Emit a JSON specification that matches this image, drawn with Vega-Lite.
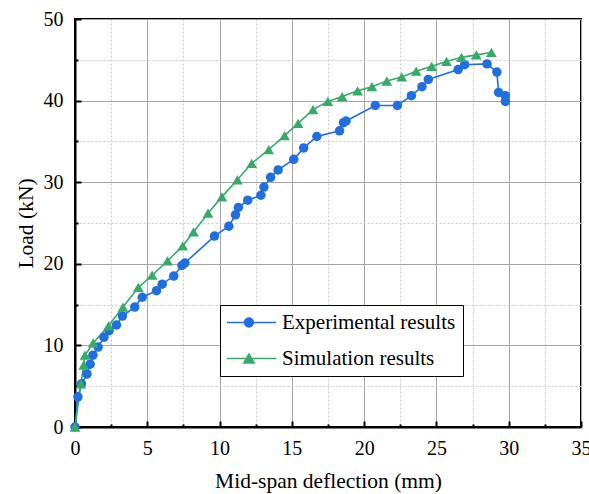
{
  "$schema": "https://vega.github.io/schema/vega-lite/v6.json",
  "width": 506,
  "height": 408,
  "autosize": "none",
  "padding": {"left": 75, "top": 19, "right": 8, "bottom": 67},
  "background": "white",
  "config": {
    "view": {"stroke": "black", "strokeWidth": 2},
    "font": "Liberation Serif",
    "legend": {
      "title": null,
      "orient": "none",
      "legendX": 145,
      "legendY": 286,
      "symbolSize": 2916,
      "symbolOpacity": 1,
      "symbolStrokeWidth": 0,
      "symbolOffset": -5,
      "clipHeight": 21,
      "labelFont": "Liberation Serif",
      "labelFontSize": 21,
      "labelColor": "black",
      "labelOffset": 6,
      "labelLimit": 400,
      "rowPadding": 14,
      "padding": 7,
      "strokeColor": "black",
      "fillColor": "white"
    }
  },
  "data": {
    "values": [
      {"series": "Experimental results", "i": 0, "x": 0, "y": 0},
      {"series": "Experimental results", "i": 1, "x": 0.2, "y": 3.7},
      {"series": "Experimental results", "i": 2, "x": 0.45, "y": 5.3},
      {"series": "Experimental results", "i": 3, "x": 0.83, "y": 6.5},
      {"series": "Experimental results", "i": 4, "x": 1.05, "y": 7.7},
      {"series": "Experimental results", "i": 5, "x": 1.24, "y": 8.8},
      {"series": "Experimental results", "i": 6, "x": 1.6, "y": 9.8},
      {"series": "Experimental results", "i": 7, "x": 2.0, "y": 11.0},
      {"series": "Experimental results", "i": 8, "x": 2.36, "y": 11.8},
      {"series": "Experimental results", "i": 9, "x": 2.87, "y": 12.5},
      {"series": "Experimental results", "i": 10, "x": 3.28, "y": 13.6},
      {"series": "Experimental results", "i": 11, "x": 4.13, "y": 14.7},
      {"series": "Experimental results", "i": 12, "x": 4.65, "y": 15.9},
      {"series": "Experimental results", "i": 13, "x": 5.64, "y": 16.7},
      {"series": "Experimental results", "i": 14, "x": 6.03, "y": 17.5},
      {"series": "Experimental results", "i": 15, "x": 6.83, "y": 18.5},
      {"series": "Experimental results", "i": 16, "x": 7.4, "y": 19.8},
      {"series": "Experimental results", "i": 17, "x": 7.6, "y": 20.1},
      {"series": "Experimental results", "i": 18, "x": 9.65, "y": 23.4},
      {"series": "Experimental results", "i": 19, "x": 10.64, "y": 24.6},
      {"series": "Experimental results", "i": 20, "x": 11.1, "y": 26.0},
      {"series": "Experimental results", "i": 21, "x": 11.3, "y": 26.9},
      {"series": "Experimental results", "i": 22, "x": 11.95, "y": 27.8},
      {"series": "Experimental results", "i": 23, "x": 12.86, "y": 28.4},
      {"series": "Experimental results", "i": 24, "x": 13.07, "y": 29.4},
      {"series": "Experimental results", "i": 25, "x": 13.53, "y": 30.6},
      {"series": "Experimental results", "i": 26, "x": 14.05, "y": 31.5},
      {"series": "Experimental results", "i": 27, "x": 15.13, "y": 32.8},
      {"series": "Experimental results", "i": 28, "x": 15.82, "y": 34.2},
      {"series": "Experimental results", "i": 29, "x": 16.73, "y": 35.6},
      {"series": "Experimental results", "i": 30, "x": 18.3, "y": 36.3},
      {"series": "Experimental results", "i": 31, "x": 18.57, "y": 37.3},
      {"series": "Experimental results", "i": 32, "x": 18.75, "y": 37.5},
      {"series": "Experimental results", "i": 33, "x": 20.77, "y": 39.4},
      {"series": "Experimental results", "i": 34, "x": 22.3, "y": 39.4},
      {"series": "Experimental results", "i": 35, "x": 23.27, "y": 40.6},
      {"series": "Experimental results", "i": 36, "x": 24.0, "y": 41.7},
      {"series": "Experimental results", "i": 37, "x": 24.44, "y": 42.6},
      {"series": "Experimental results", "i": 38, "x": 26.5, "y": 43.8},
      {"series": "Experimental results", "i": 39, "x": 26.95, "y": 44.4},
      {"series": "Experimental results", "i": 40, "x": 28.5, "y": 44.5},
      {"series": "Experimental results", "i": 41, "x": 29.18, "y": 43.5},
      {"series": "Experimental results", "i": 42, "x": 29.3, "y": 41.0},
      {"series": "Experimental results", "i": 43, "x": 29.77, "y": 40.6},
      {"series": "Experimental results", "i": 44, "x": 29.77, "y": 39.9},
      {"series": "Simulation results", "i": 0, "x": 0, "y": 0},
      {"series": "Simulation results", "i": 1, "x": 0.41, "y": 5.3},
      {"series": "Simulation results", "i": 2, "x": 0.6, "y": 7.6},
      {"series": "Simulation results", "i": 3, "x": 0.69, "y": 8.8},
      {"series": "Simulation results", "i": 4, "x": 1.26, "y": 10.3},
      {"series": "Simulation results", "i": 5, "x": 2.32, "y": 12.4},
      {"series": "Simulation results", "i": 6, "x": 3.32, "y": 14.7},
      {"series": "Simulation results", "i": 7, "x": 4.38, "y": 17.1},
      {"series": "Simulation results", "i": 8, "x": 5.34, "y": 18.6},
      {"series": "Simulation results", "i": 9, "x": 6.4, "y": 20.35},
      {"series": "Simulation results", "i": 10, "x": 7.45, "y": 22.2},
      {"series": "Simulation results", "i": 11, "x": 8.2, "y": 23.9},
      {"series": "Simulation results", "i": 12, "x": 9.2, "y": 26.2},
      {"series": "Simulation results", "i": 13, "x": 10.16, "y": 28.2},
      {"series": "Simulation results", "i": 14, "x": 11.23, "y": 30.3},
      {"series": "Simulation results", "i": 15, "x": 12.22, "y": 32.3},
      {"series": "Simulation results", "i": 16, "x": 13.4, "y": 34.0},
      {"series": "Simulation results", "i": 17, "x": 14.5, "y": 35.7},
      {"series": "Simulation results", "i": 18, "x": 15.43, "y": 37.2},
      {"series": "Simulation results", "i": 19, "x": 16.46, "y": 38.9},
      {"series": "Simulation results", "i": 20, "x": 17.49, "y": 39.9},
      {"series": "Simulation results", "i": 21, "x": 18.48, "y": 40.5},
      {"series": "Simulation results", "i": 22, "x": 19.55, "y": 41.2},
      {"series": "Simulation results", "i": 23, "x": 20.54, "y": 41.7},
      {"series": "Simulation results", "i": 24, "x": 21.57, "y": 42.4},
      {"series": "Simulation results", "i": 25, "x": 22.6, "y": 42.9},
      {"series": "Simulation results", "i": 26, "x": 23.6, "y": 43.6},
      {"series": "Simulation results", "i": 27, "x": 24.67, "y": 44.2},
      {"series": "Simulation results", "i": 28, "x": 25.7, "y": 44.8},
      {"series": "Simulation results", "i": 29, "x": 26.73, "y": 45.3},
      {"series": "Simulation results", "i": 30, "x": 27.76, "y": 45.6},
      {"series": "Simulation results", "i": 31, "x": 28.8, "y": 45.9}
    ]
  },
  "resolve": {"axis": {"x": "independent", "y": "independent"}},
  "layer": [
    {
      "mark": {"type": "line", "strokeWidth": 1.6},
      "encoding": {
        "x": {
          "field": "x", "type": "quantitative",
          "scale": {"domain": [0, 35], "nice": false, "zero": false},
          "axis": {
            "orient": "bottom",
            "values": [0, 5, 10, 15, 20, 25, 30, 35],
            "grid": true, "gridColor": "#a6a6a6", "gridWidth": 1,
            "domain": true, "domainColor": "black", "domainWidth": 2,
            "ticks": true, "tickSize": -6, "tickColor": "black", "tickWidth": 2,
            "labelFont": "Liberation Serif", "labelFontSize": 20, "labelColor": "black",
            "labelPadding": 17, "labelFlush": false, "labelOverlap": false,
            "title": "Mid-span deflection (mm)", "titleFont": "Liberation Serif",
            "titleFontSize": 21.5, "titleFontWeight": "normal", "titleColor": "black", "titlePadding": 12
          }
        },
        "y": {
          "field": "y", "type": "quantitative",
          "scale": {"domain": [0, 50], "nice": false, "zero": false},
          "axis": {
            "orient": "left",
            "values": [0, 10, 20, 30, 40, 50],
            "grid": true, "gridColor": "#a6a6a6", "gridWidth": 1,
            "domain": true, "domainColor": "black", "domainWidth": 2,
            "ticks": true, "tickSize": -6, "tickColor": "black", "tickWidth": 2,
            "labelFont": "Liberation Serif", "labelFontSize": 20, "labelColor": "black",
            "labelPadding": 18, "labelFlush": false, "labelOverlap": false,
            "title": "Load (kN)", "titleFont": "Liberation Serif",
            "titleFontSize": 21.5, "titleFontWeight": "normal", "titleColor": "black", "titlePadding": 6
          }
        },
        "color": {
          "field": "series", "type": "nominal",
          "scale": {"domain": ["Experimental results", "Simulation results"], "range": ["#1f6fe0", "#36ab68"]}
        },
        "detail": {"field": "series"},
        "order": {"field": "i", "type": "quantitative"}
      }
    },
    {
      "transform": [{"filter": "datum.series === 'Experimental results'"}],
      "mark": {"type": "point", "shape": "circle", "filled": true, "opacity": 1, "size": 90},
      "encoding": {
        "x": {
          "field": "x", "type": "quantitative",
          "axis": {
            "orient": "bottom",
            "values": [2.5, 7.5, 12.5, 17.5, 22.5, 27.5, 32.5],
            "grid": true, "gridColor": "#c8c8c8", "gridWidth": 1, "gridDash": [2, 2],
            "domain": false, "labels": false, "title": null,
            "ticks": true, "tickSize": -3, "tickColor": "black", "tickWidth": 2
          }
        },
        "y": {
          "field": "y", "type": "quantitative",
          "axis": {
            "orient": "left",
            "values": [5, 15, 25, 35, 45],
            "grid": true, "gridColor": "#c8c8c8", "gridWidth": 1, "gridDash": [2, 2],
            "domain": false, "labels": false, "title": null,
            "ticks": true, "tickSize": -3, "tickColor": "black", "tickWidth": 2
          }
        },
        "color": {"field": "series", "type": "nominal"}
      }
    },
    {
      "transform": [{"filter": "datum.series === 'Simulation results'"}],
      "mark": {"type": "point", "shape": "triangle-up", "filled": true, "opacity": 1, "size": 115},
      "encoding": {
        "x": {"field": "x", "type": "quantitative", "axis": null},
        "y": {"field": "y", "type": "quantitative", "axis": null},
        "color": {"field": "series", "type": "nominal"}
      }
    },
    {
      "mark": {"type": "point", "filled": true, "opacity": 0},
      "encoding": {
        "x": {"field": "x", "type": "quantitative", "axis": null},
        "y": {"field": "y", "type": "quantitative", "axis": null},
        "shape": {
          "field": "series", "type": "nominal",
          "scale": {
            "domain": ["Experimental results", "Simulation results"],
            "range": [
              "M-1,-0.03L1,-0.03L1,0.03L-1,0.03Z M0.19,0A0.19,0.19,0,1,1,-0.19,0A0.19,0.19,0,1,1,0.19,0Z",
              "M-1,-0.03L1,-0.03L1,0.03L-1,0.03Z M0,-0.22L0.24,0.19L-0.24,0.19Z"
            ]
          }
        },
        "color": {"field": "series", "type": "nominal"}
      }
    }
  ]
}
